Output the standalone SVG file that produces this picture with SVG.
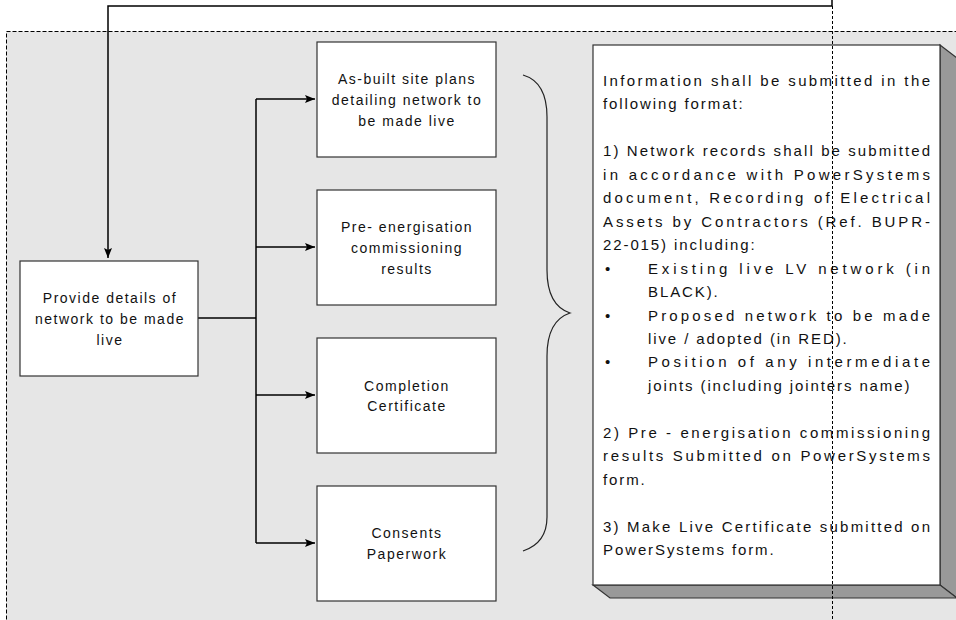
<svg xmlns="http://www.w3.org/2000/svg" width="956" height="620" viewBox="0 0 956 620">
<style>
.box{fill:#fff;stroke:#333;stroke-width:1.2}
.t{font-family:"Liberation Sans",Arial,sans-serif;font-size:14px;fill:#111;letter-spacing:1.5px;text-anchor:middle}
.r{font-family:"Liberation Sans",Arial,sans-serif;font-size:15px;fill:#111;letter-spacing:1.9px}
.j{font-family:"Liberation Sans",Arial,sans-serif;font-size:15px;fill:#111}
.c{fill:none;stroke:#000;stroke-width:1.5}
</style>
<defs>
<marker id="ah" markerUnits="userSpaceOnUse" markerWidth="11" markerHeight="9" refX="10" refY="4" orient="auto">
<path d="M0,0 L10,4 L0,8 L2,4 z" fill="#000"/>
</marker>
</defs>
<rect width="956" height="620" fill="#fff"/>
<rect id="container" x="6.5" y="31.5" width="960" height="600" fill="#e6e6e6" stroke="#000" stroke-width="1" stroke-dasharray="4,2"/>
<g id="connectors">
<path class="c" d="M832,0 V6 H108 V258" marker-end="url(#ah)"/>
<path class="c" d="M198,318 H256"/>
<path class="c" d="M256,99 V543"/>
<path class="c" d="M256,99 H315" marker-end="url(#ah)"/>
<path class="c" d="M256,247 H315" marker-end="url(#ah)"/>
<path class="c" d="M256,395 H315" marker-end="url(#ah)"/>
<path class="c" d="M256,543 H315" marker-end="url(#ah)"/>
</g>
<g id="node-provide">
<rect class="box" x="20" y="261" width="178" height="115" stroke="#555"/>
<text class="t" x="110" y="303">Provide details of</text>
<text class="t" x="110" y="324">network to be made</text>
<text class="t" x="110" y="345">live</text>
</g>
<g id="node-asbuilt">
<rect class="box" x="317" y="42" width="179" height="115"/>
<text class="t" x="407" y="84">As-built site plans</text>
<text class="t" x="407" y="105">detailing network to</text>
<text class="t" x="407" y="126">be made live</text>
</g>
<g id="node-preenergisation">
<rect class="box" x="317" y="190" width="179" height="115"/>
<text class="t" x="407" y="232">Pre- energisation</text>
<text class="t" x="407" y="253">commissioning</text>
<text class="t" x="407" y="274">results</text>
</g>
<g id="node-completion">
<rect class="box" x="317" y="338" width="179" height="115"/>
<text class="t" x="407" y="390.5">Completion</text>
<text class="t" x="407" y="411">Certificate</text>
</g>
<g id="node-consents">
<rect class="box" x="317" y="486" width="179" height="115"/>
<text class="t" x="407" y="538">Consents</text>
<text class="t" x="407" y="558.5">Paperwork</text>
</g>
<g id="brace">
<path d="M523,75 C540,80 547,95 547,117 V270 C547,295 555,308 570,313 C555,318 547,331 547,356 V517 C547,535 538,546 523,551" fill="none" stroke="#222" stroke-width="1.2"/>
</g>
<g id="node-info">
<polygon points="940,45 957,58 957,598 940,585" fill="#999" stroke="#333" stroke-width="1.2"/>
<polygon points="593,585 610,598 957,598 940,585" fill="#999" stroke="#333" stroke-width="1.2"/>
<rect x="593" y="45" width="347" height="540" fill="#fff" stroke="#333" stroke-width="1.2"/>
<text class="j" x="603" y="86" textLength="327" lengthAdjust="spacing">Information shall be submitted in the</text>
<text class="r" x="603" y="109.45">following format:</text>
<text class="j" x="603" y="156.35" textLength="327" lengthAdjust="spacing">1) Network records shall be submitted</text>
<text class="j" x="603" y="179.8" textLength="327" lengthAdjust="spacing">in accordance with PowerSystems</text>
<text class="j" x="603" y="203.25" textLength="327" lengthAdjust="spacing">document, Recording of Electrical</text>
<text class="j" x="603" y="226.7" textLength="327" lengthAdjust="spacing">Assets by Contractors (Ref. BUPR-</text>
<text class="r" x="603" y="250.15">22-015) including:</text>
<text class="j" x="605" y="273.6">•</text>
<text class="j" x="648" y="273.6" textLength="282" lengthAdjust="spacing">Existing live LV network (in</text>
<text class="r" x="648" y="297.05">BLACK).</text>
<text class="j" x="605" y="320.5">•</text>
<text class="j" x="648" y="320.5" textLength="282" lengthAdjust="spacing">Proposed network to be made</text>
<text class="r" x="648" y="343.95">live / adopted (in RED).</text>
<text class="j" x="605" y="367.4">•</text>
<text class="j" x="648" y="367.4" textLength="282" lengthAdjust="spacing">Position of any intermediate</text>
<text class="r" x="648" y="390.85">joints (including jointers name)</text>
<text class="j" x="603" y="437.75" textLength="327" lengthAdjust="spacing">2) Pre - energisation commissioning</text>
<text class="j" x="603" y="461.2" textLength="327" lengthAdjust="spacing">results Submitted on PowerSystems</text>
<text class="r" x="603" y="484.65">form.</text>
<text class="j" x="603" y="531.55" textLength="327" lengthAdjust="spacing">3) Make Live Certificate submitted on</text>
<text class="r" x="603" y="555">PowerSystems form.</text>
</g>
<g id="divider">
<line x1="832.5" y1="6" x2="832.5" y2="620" stroke="#000" stroke-width="1" stroke-dasharray="3,2"/>
</g>
</svg>
